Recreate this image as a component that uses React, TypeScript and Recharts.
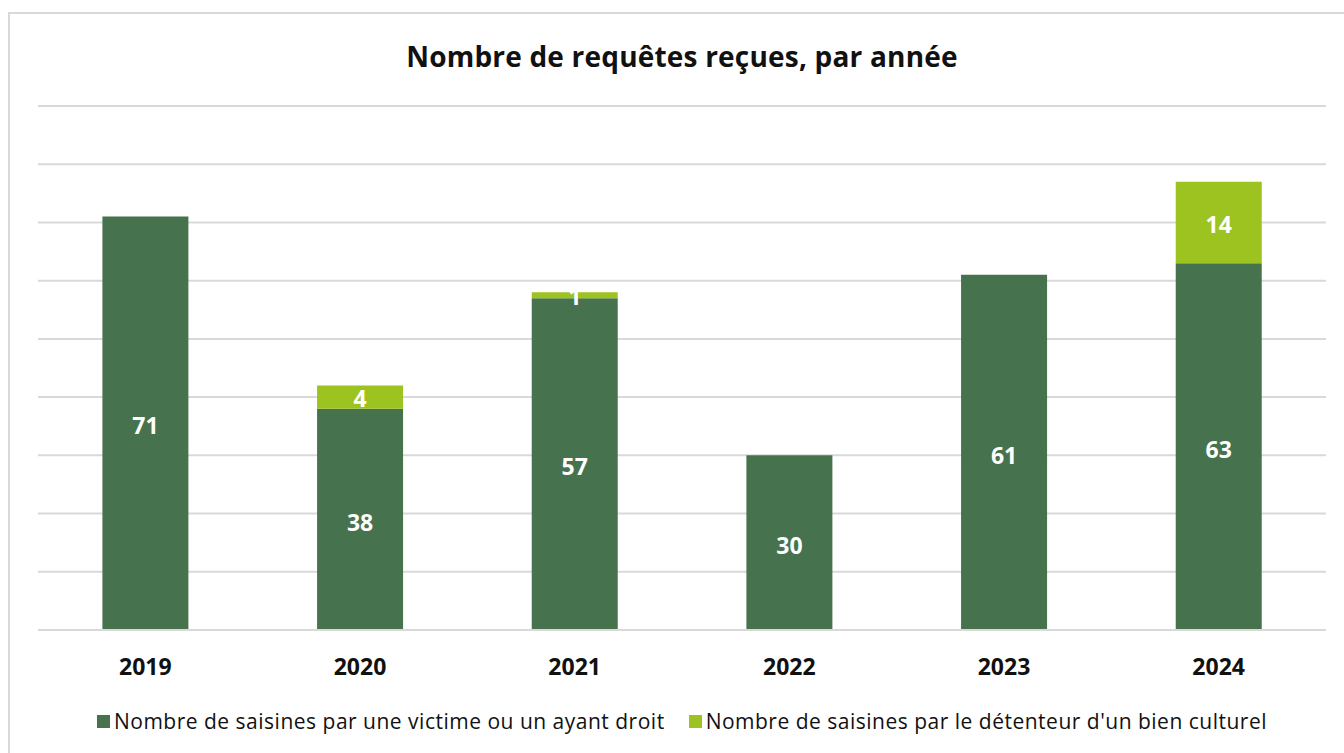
import { BarChart, Bar, XAxis, YAxis, CartesianGrid, Legend, LabelList } from 'recharts';

const YEARS = ['2019', '2020', '2021', '2022', '2023', '2024'];
const VICTIMES = [71, 38, 57, 30, 61, 63];
const DETENTEURS = [0, 4, 1, 0, 0, 14];
const Y_TICKS = [0, 10, 20, 30, 40, 50, 60, 70, 80, 90];

const DARK = '#46734d';
const LIME = '#9cc31f';
const FONT = '"Open Sans", sans-serif';

const data = YEARS.map((year, i) => ({
  year,
  victimes: VICTIMES[i],
  detenteurs: DETENTEURS[i] || null,
}));

const legendItems = [
  { label: 'Nombre de saisines par une victime ou un ayant droit', color: DARK },
  { label: "Nombre de saisines par le détenteur d'un bien culturel", color: LIME },
];

function ChartLegend() {
  return (
    <div style={{ display: 'flex', justifyContent: 'center', gap: 24, height: 30, alignItems: 'center' }}>
      {legendItems.map((it) => (
        <div key={it.label} style={{ display: 'flex', alignItems: 'center', gap: 4 }}>
          <span style={{ width: 13, height: 13, background: it.color, display: 'inline-block' }} />
          <span style={{ fontFamily: FONT, fontSize: 21, letterSpacing: 0.5, color: '#111' }}>{it.label}</span>
        </div>
      ))}
    </div>
  );
}

const labelStyle = { fill: '#fff', fontFamily: FONT, fontSize: 23, fontWeight: 700 };

export default function App() {
  return (
    <div
      style={{
        position: 'absolute',
        top: 12,
        left: 8,
        width: 1336,
        height: 741,
        boxSizing: 'border-box',
        borderTop: '2px solid #d9d9d9',
        borderLeft: '2px solid #d9d9d9',
        background: '#fff',
        overflow: 'hidden',
      }}
    >
      <div
        style={{
          position: 'absolute',
          top: 23,
          left: 28,
          width: 1288,
          textAlign: 'center',
          fontFamily: FONT,
          fontWeight: 700,
          fontSize: 28,
          letterSpacing: 0.2,
          color: '#111',
        }}
      >
        Nombre de requêtes reçues, par année
      </div>
      <BarChart
        width={1334}
        height={739}
        data={data}
        margin={{ top: 92, right: 18, left: 28, bottom: 33 }}
        barCategoryGap="30%"
      >
        <CartesianGrid vertical={false} stroke="#d9d9d9" strokeWidth={2} />
        <XAxis
          dataKey="year"
          axisLine={{ stroke: '#d9d9d9', strokeWidth: 2 }}
          tickLine={false}
          tick={{ fill: '#111', fontFamily: FONT, fontSize: 23, fontWeight: 700 }}
          tickMargin={23}
          height={60}
        />
        <YAxis hide domain={[0, 90]} ticks={Y_TICKS} />
        <Legend verticalAlign="bottom" content={<ChartLegend />} wrapperStyle={{ bottom: 17 }} />
        <Bar dataKey="victimes" stackId="a" fill={DARK} isAnimationActive={false}>
          <LabelList dataKey="victimes" position="center" dy={3} style={labelStyle} />
        </Bar>
        <Bar dataKey="detenteurs" stackId="a" fill={LIME} isAnimationActive={false}>
          <LabelList dataKey="detenteurs" position="center" dy={2} style={labelStyle} />
        </Bar>
      </BarChart>
    </div>
  );
}
